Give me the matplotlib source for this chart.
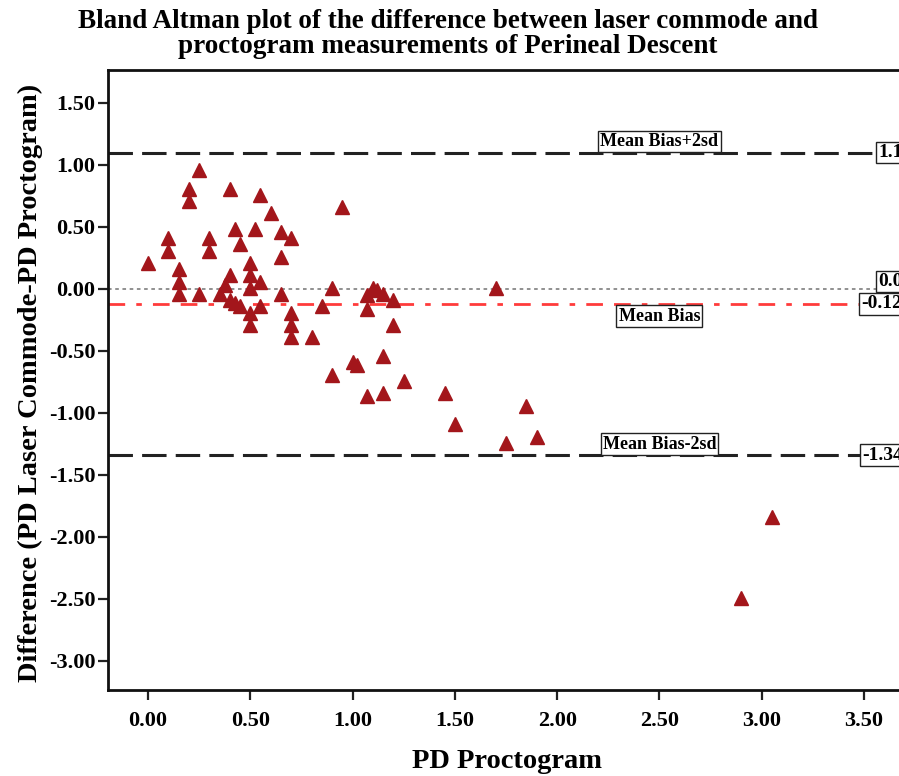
import numpy as np
import matplotlib
matplotlib.use('Agg')
import matplotlib.pyplot as plt

# PD proctogram (x) vs difference laser commode - proctogram (y)
pd_proctogram = [0.00, 0.10, 0.10, 0.15, 0.15, 0.15, 0.20, 0.20, 0.25, 0.25,
                 0.30, 0.30, 0.35, 0.375, 0.40, 0.40, 0.40, 0.425, 0.425, 0.45,
                 0.45, 0.50, 0.50, 0.50, 0.50, 0.50, 0.525, 0.55, 0.55, 0.55,
                 0.60, 0.65, 0.65, 0.65, 0.70, 0.70, 0.70, 0.70, 0.80, 0.85,
                 0.90, 0.90, 0.95, 1.00, 1.02, 1.07, 1.07, 1.07, 1.10, 1.12,
                 1.15, 1.15, 1.15, 1.20, 1.20, 1.25, 1.45, 1.50, 1.70, 1.75,
                 1.85, 1.90, 2.90, 3.05]
difference = [0.21, 0.41, 0.31, 0.16, 0.06, -0.04, 0.81, 0.71, 0.96, -0.04,
              0.41, 0.31, -0.04, 0.03, 0.11, 0.81, -0.09, 0.48, -0.11, 0.36,
              -0.14, 0.21, 0.11, 0.01, -0.19, -0.29, 0.48, 0.76, 0.06, -0.14,
              0.61, 0.46, 0.26, -0.04, 0.41, -0.19, -0.29, -0.39, -0.39, -0.14,
              0.01, -0.69, 0.66, -0.59, -0.61, -0.05, -0.16, -0.86, 0.01, -0.01,
              -0.04, -0.54, -0.84, -0.09, -0.29, -0.74, -0.84, -1.09, 0.01, -1.24,
              -0.94, -1.19, -2.49, -1.84]

mean_bias = -0.12
upper_loa = 1.10
lower_loa = -1.34

serif = 'Liberation Serif'

fig = plt.figure(figsize=(8.99, 7.76), dpi=100)
W, H = 899., 776.
x_right = 3.8
px_per_x = 204.6
right_px = 148 + x_right * px_per_x
ax = fig.add_axes([108/W, 1-690/H, (right_px-108)/W, (690-70)/H])
ax.set_xlim(-0.195, x_right)
ax.set_ylim(-3.234, 1.766)

ax.axhline(0, color='#888888', lw=1.3, ls=(0, (2, 2)), zorder=1)
ax.axhline(mean_bias, color='#ff3b3b', lw=2.0, ls=(0, (6, 4, 2, 4, 6, 4)), zorder=1)
ax.axhline(upper_loa, color='#222222', lw=2.2, ls=(0, (8, 3)), zorder=1)
ax.axhline(lower_loa, color='#222222', lw=2.2, ls=(0, (8, 3)), zorder=1)

ax.plot(pd_proctogram, difference, ls='none', marker='^', ms=9.5,
        color='#a3161b', mec='#a3161b', zorder=3)

box = dict(boxstyle='square,pad=0.12', fc='white', ec='#222222', lw=1.0)
ax.text(2.5, upper_loa + 0.02, 'Mean Bias+2sd', ha='center', va='bottom',
        fontsize=13, fontweight='bold', family=serif, bbox=box, zorder=4)
ax.text(2.5, mean_bias - 0.03, 'Mean Bias', ha='center', va='top',
        fontsize=13, fontweight='bold', family=serif, bbox=box, zorder=4)
ax.text(2.5, lower_loa + 0.02, 'Mean Bias-2sd', ha='center', va='bottom',
        fontsize=13, fontweight='bold', family=serif, bbox=box, zorder=4)

xr = lambda p: (p - 148) / px_per_x
ax.text(xr(878), upper_loa, '1.10', ha='left', va='center', fontsize=14,
        fontweight='bold', family=serif, bbox=box, zorder=4)
ax.text(xr(878), 0.06, '0.00', ha='left', va='center', fontsize=14,
        fontweight='bold', family=serif, bbox=box, zorder=4)
ax.text(xr(861), mean_bias, '-0.12', ha='left', va='center', fontsize=14,
        fontweight='bold', family=serif, bbox=box, zorder=4)
ax.text(xr(862), lower_loa, '-1.34', ha='left', va='center', fontsize=14,
        fontweight='bold', family=serif, bbox=box, zorder=4)

xticks = [0.0, 0.5, 1.0, 1.5, 2.0, 2.5, 3.0, 3.5]
yticks = [1.5, 1.0, 0.5, 0.0, -0.5, -1.0, -1.5, -2.0, -2.5, -3.0]
ax.set_xticks(xticks)
ax.set_xticklabels(['%.2f' % v for v in xticks])
ax.set_yticks(yticks)
ax.set_yticklabels(['%.2f' % v for v in yticks])
for lab in ax.get_xticklabels() + ax.get_yticklabels():
    lab.set_family(serif)
    lab.set_fontsize(16)
    lab.set_fontweight('bold')
ax.tick_params(length=7, width=1.6, color='#222222', pad=2)
ax.tick_params(axis='x', pad=8)
for s in ax.spines.values():
    s.set_linewidth(2)
    s.set_color('#111111')

fig.text(507/W, 1-762/H, 'PD Proctogram', ha='center', va='center',
         family=serif, fontsize=20.5, fontweight='bold')
fig.text(30/W, 1-383/H, 'Difference (PD Laser Commode-PD Proctogram)', rotation=90,
         ha='center', va='center', family=serif, fontsize=20.5, fontweight='bold')

fig.text(448/W, 1-34/H, 'Bland Altman plot of the difference between laser commode and\nproctogram measurements of Perineal Descent',
         ha='center', va='center', family=serif, fontsize=19.5, fontweight='bold',
         linespacing=1.0)

plt.savefig('out.png', dpi=100)
